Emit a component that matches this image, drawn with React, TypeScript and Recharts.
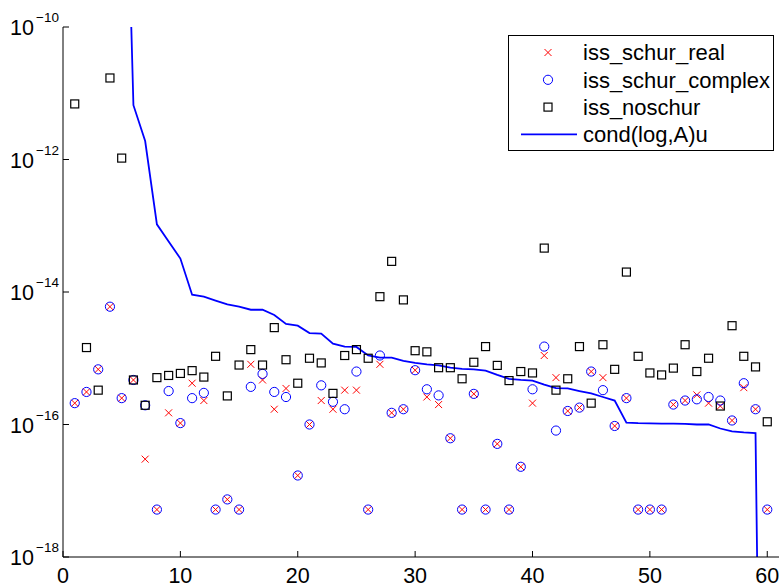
import React from "react";
import { ComposedChart, Line, Scatter, XAxis, YAxis, Legend } from "recharts";

const FONT = "'Liberation Sans', Arial, Helvetica, sans-serif";

// index 1..60
const idx = Array.from({ length: 60 }, (_, i) => i + 1);

const schurReal = [
  2.1e-16, 3.1e-16, 6.8e-16, 6.0e-15, 2.5e-16, 4.7e-16, 3.0e-17, 5.2e-18, 1.5e-16, 1.05e-16,
  4.2e-16, 2.3e-16, 5.2e-18, 7.4e-18, 5.2e-18, 8.1e-16, 4.7e-16, 1.7e-16, 3.5e-16, 1.7e-17,
  1.0e-16, 2.3e-16, 1.7e-16, 3.3e-16, 3.3e-16, 5.2e-18, 8.1e-16, 1.5e-16, 1.7e-16, 6.6e-16,
  2.6e-16, 2.0e-16, 6.2e-17, 5.2e-18, 2.9e-16, 5.2e-18, 5.1e-17, 5.2e-18, 2.3e-17, 2.1e-16,
  1.1e-15, 5.1e-16, 1.6e-16, 1.8e-16, 6.3e-16, 5.1e-16, 9.5e-17, 2.5e-16, 5.2e-18, 5.2e-18,
  5.2e-18, 2.0e-16, 2.3e-16, 2.8e-16, 2.1e-16, 1.9e-16, 1.15e-16, 3.6e-16, 1.7e-16, 5.2e-18,
];

const schurComplex = [
  2.1e-16, 3.1e-16, 6.8e-16, 6.0e-15, 2.5e-16, 4.7e-16, 1.95e-16, 5.2e-18, 3.2e-16, 1.05e-16,
  2.5e-16, 3.0e-16, 5.2e-18, 7.4e-18, 5.2e-18, 3.7e-16, 5.8e-16, 3.1e-16, 2.6e-16, 1.7e-17,
  1.0e-16, 3.9e-16, 2.2e-16, 1.7e-16, 6.3e-16, 5.2e-18, 1.1e-15, 1.5e-16, 1.7e-16, 6.6e-16,
  3.4e-16, 2.75e-16, 6.2e-17, 5.2e-18, 2.9e-16, 5.2e-18, 5.1e-17, 5.2e-18, 2.3e-17, 3.4e-16,
  1.5e-15, 8.1e-17, 1.6e-16, 1.8e-16, 6.3e-16, 3.3e-16, 9.5e-17, 2.5e-16, 5.2e-18, 5.2e-18,
  5.2e-18, 2.0e-16, 2.3e-16, 2.4e-16, 2.6e-16, 2.3e-16, 1.15e-16, 4.2e-16, 1.7e-16, 5.2e-18,
];

const noSchur = [
  6.9e-12, 1.45e-15, 3.3e-16, 1.7e-11, 1.05e-12, 4.7e-16, 1.95e-16, 5.1e-16, 5.5e-16, 5.9e-16,
  6.5e-16, 5.2e-16, 1.07e-15, 2.7e-16, 7.9e-16, 1.35e-15, 7.9e-16, 2.9e-15, 9.5e-16, 4.2e-16,
  1.0e-15, 8.5e-16, 2.95e-16, 1.1e-15, 1.35e-15, 1.0e-15, 8.5e-15, 2.9e-14, 7.6e-15, 1.3e-15,
  1.25e-15, 7.2e-16, 7.2e-16, 4.9e-16, 8.7e-16, 1.5e-15, 7.8e-16, 4.6e-16, 6.3e-16, 6.0e-16,
  4.6e-14, 3.3e-16, 4.9e-16, 1.5e-15, 2.1e-16, 1.6e-15, 6.8e-16, 2.0e-14, 1.07e-15, 6.0e-16,
  5.6e-16, 7.1e-16, 1.6e-15, 6.3e-16, 1.0e-15, 1.9e-16, 3.1e-15, 1.07e-15, 7.4e-16, 1.1e-16,
];

const condLogU = [
  3e-3, 8e-4, 2e-4, 6e-5, 2e-5, 6.6e-12, 1.9e-12, 1.05e-13, 5.8e-14, 3.2e-14,
  9.1e-15, 8.5e-15, 7.4e-15, 6.5e-15, 6.0e-15, 5.4e-15, 5.4e-15, 4.5e-15, 3.3e-15, 3.1e-15,
  2.4e-15, 2.35e-15, 1.66e-15, 1.5e-15, 1.48e-15, 1.1e-15, 1.02e-15, 1.02e-15, 9.1e-16, 8.5e-16,
  8.1e-16, 7.8e-16, 7.2e-16, 6.9e-16, 6.8e-16, 6.5e-16, 5.6e-16, 4.9e-16, 4.7e-16, 4.6e-16,
  4.0e-16, 3.55e-16, 3.5e-16, 3.2e-16, 2.95e-16, 2.6e-16, 2.3e-16, 1.07e-16, 1.05e-16, 1.04e-16,
  1.03e-16, 1.03e-16, 1.02e-16, 1.0e-16, 1.0e-16, 8.7e-17, 7.9e-17, 7.6e-17, 7.4e-17, 1e-30,
];

const xTicks = [0, 10, 20, 30, 40, 50, 60];
const yTicks = [1e-18, 1e-16, 1e-14, 1e-12, 1e-10];

const data = idx.map((x, i) => ({
  x,
  real: schurReal[i],
  complex: schurComplex[i],
  noschur: noSchur[i],
  cond: condLogU[i],
}));

const XMark = ({ cx, cy }: any) => (
  <g stroke="#ff0000" strokeWidth={1}>
    <line x1={cx - 3.5} y1={cy - 3.5} x2={cx + 3.5} y2={cy + 3.5} />
    <line x1={cx - 3.5} y1={cy + 3.5} x2={cx + 3.5} y2={cy - 3.5} />
  </g>
);
const OMark = ({ cx, cy }: any) => (
  <circle cx={cx} cy={cy} r={4.6} fill="none" stroke="#0000ff" strokeWidth={1} />
);
const SMark = ({ cx, cy }: any) => (
  <rect x={cx - 4} y={cy - 4} width={8} height={8} fill="none" stroke="#000" strokeWidth={1.2} />
);

const BottomTick = ({ x, y, payload }: any) => (
  <g>
    <line x1={x} y1={y} x2={x} y2={y - 6} stroke="#000" />
    <text x={x} y={y + 25.5} textAnchor="middle" fontSize={21.5} fontFamily={FONT} fill="#000">
      {payload.value}
    </text>
  </g>
);
const TopTick = ({ x, y }: any) => <line x1={x} y1={y} x2={x} y2={y + 6} stroke="#000" />;
const RightTick = ({ x, y }: any) => <line x1={x} y1={y} x2={x - 6} y2={y} stroke="#000" />;
const LeftTick = ({ x, y, payload }: any) => {
  const e = Math.round(Math.log10(payload.value));
  return (
    <g>
      <line x1={x} y1={y} x2={x + 6} y2={y} stroke="#000" />
      <text x={x - 29} y={y + 8} textAnchor="end" fontSize={21.5} fontFamily={FONT} fill="#000">
        10
      </text>
      <text x={x - 27} y={y - 5} textAnchor="start" fontSize={13.5} fontFamily={FONT} fill="#000">
        {"\u2212" + Math.abs(e)}
      </text>
    </g>
  );
};

const legendRows = [
  { name: "iss_schur_real", kind: "x" },
  { name: "iss_schur_complex", kind: "o" },
  { name: "iss_noschur", kind: "s" },
  { name: "cond(log,A)u", kind: "line" },
];

const LegendBox = () => (
  <svg width={266} height={116} style={{ display: "block" }}>
    <rect x={0.5} y={0.5} width={265} height={115} fill="#fff" stroke="#000" />
    {legendRows.map((r, i) => {
      const my = 17.5 + i * 27.3;
      return (
        <g key={r.name}>
          {r.kind === "x" && <XMark cx={40} cy={my} />}
          {r.kind === "o" && <OMark cx={40} cy={my} />}
          {r.kind === "s" && <SMark cx={40} cy={my} />}
          {r.kind === "line" && <line x1={13} y1={my} x2={69} y2={my} stroke="#0000ff" strokeWidth={1.8} />}
          <text x={75} y={my + 7.8} fontSize={22} fontFamily={FONT} fill="#000">
            {r.name}
          </text>
        </g>
      );
    })}
  </svg>
);

export default function App() {
  return (
    <div style={{ position: "absolute", left: 0, top: 0, width: 782, height: 586, background: "#fff" }}>
      <ComposedChart width={782} height={586} data={data} margin={{ top: 27, right: 3, bottom: 0, left: 0 }}>
        <XAxis
          type="number"
          dataKey="x"
          domain={[0, 61]}
          ticks={xTicks}
          height={29}
          tickSize={0}
          tickMargin={0}
          tick={<BottomTick />}
          axisLine={{ stroke: "#000" }}
          allowDataOverflow
        />
        <XAxis
          xAxisId="top"
          orientation="top"
          type="number"
          dataKey="x"
          domain={[0, 61]}
          ticks={xTicks}
          height={0}
          tickSize={0}
          tickMargin={0}
          tick={<TopTick />}
          axisLine={{ stroke: "#000" }}
          allowDataOverflow
        />
        <YAxis
          type="number"
          scale="log"
          domain={[1e-18, 1e-10]}
          ticks={yTicks}
          width={63}
          tickSize={0}
          tickMargin={0}
          tick={<LeftTick />}
          axisLine={{ stroke: "#000" }}
          allowDataOverflow
        />
        <YAxis
          yAxisId="right"
          orientation="right"
          type="number"
          scale="log"
          domain={[1e-18, 1e-10]}
          ticks={yTicks}
          width={0}
          tickSize={0}
          tickMargin={0}
          tick={<RightTick />}
          axisLine={{ stroke: "#000" }}
          allowDataOverflow
        />
        <Legend
          layout="horizontal"
          verticalAlign="middle"
          align="center"
          wrapperStyle={{ position: "absolute", left: 508, top: 35, width: 266, height: 116 }}
          content={() => <LegendBox />}
        />
        <Scatter name="iss_schur_real" dataKey="real" shape={XMark} isAnimationActive={false} />
        <Scatter name="iss_schur_complex" dataKey="complex" shape={OMark} isAnimationActive={false} />
        <Scatter name="iss_noschur" dataKey="noschur" shape={SMark} isAnimationActive={false} />
        <Line
          name="cond(log,A)u"
          dataKey="cond"
          stroke="#0000ff"
          strokeWidth={1.8}
          dot={false}
          activeDot={false}
          isAnimationActive={false}
        />
      </ComposedChart>
    </div>
  );
}
